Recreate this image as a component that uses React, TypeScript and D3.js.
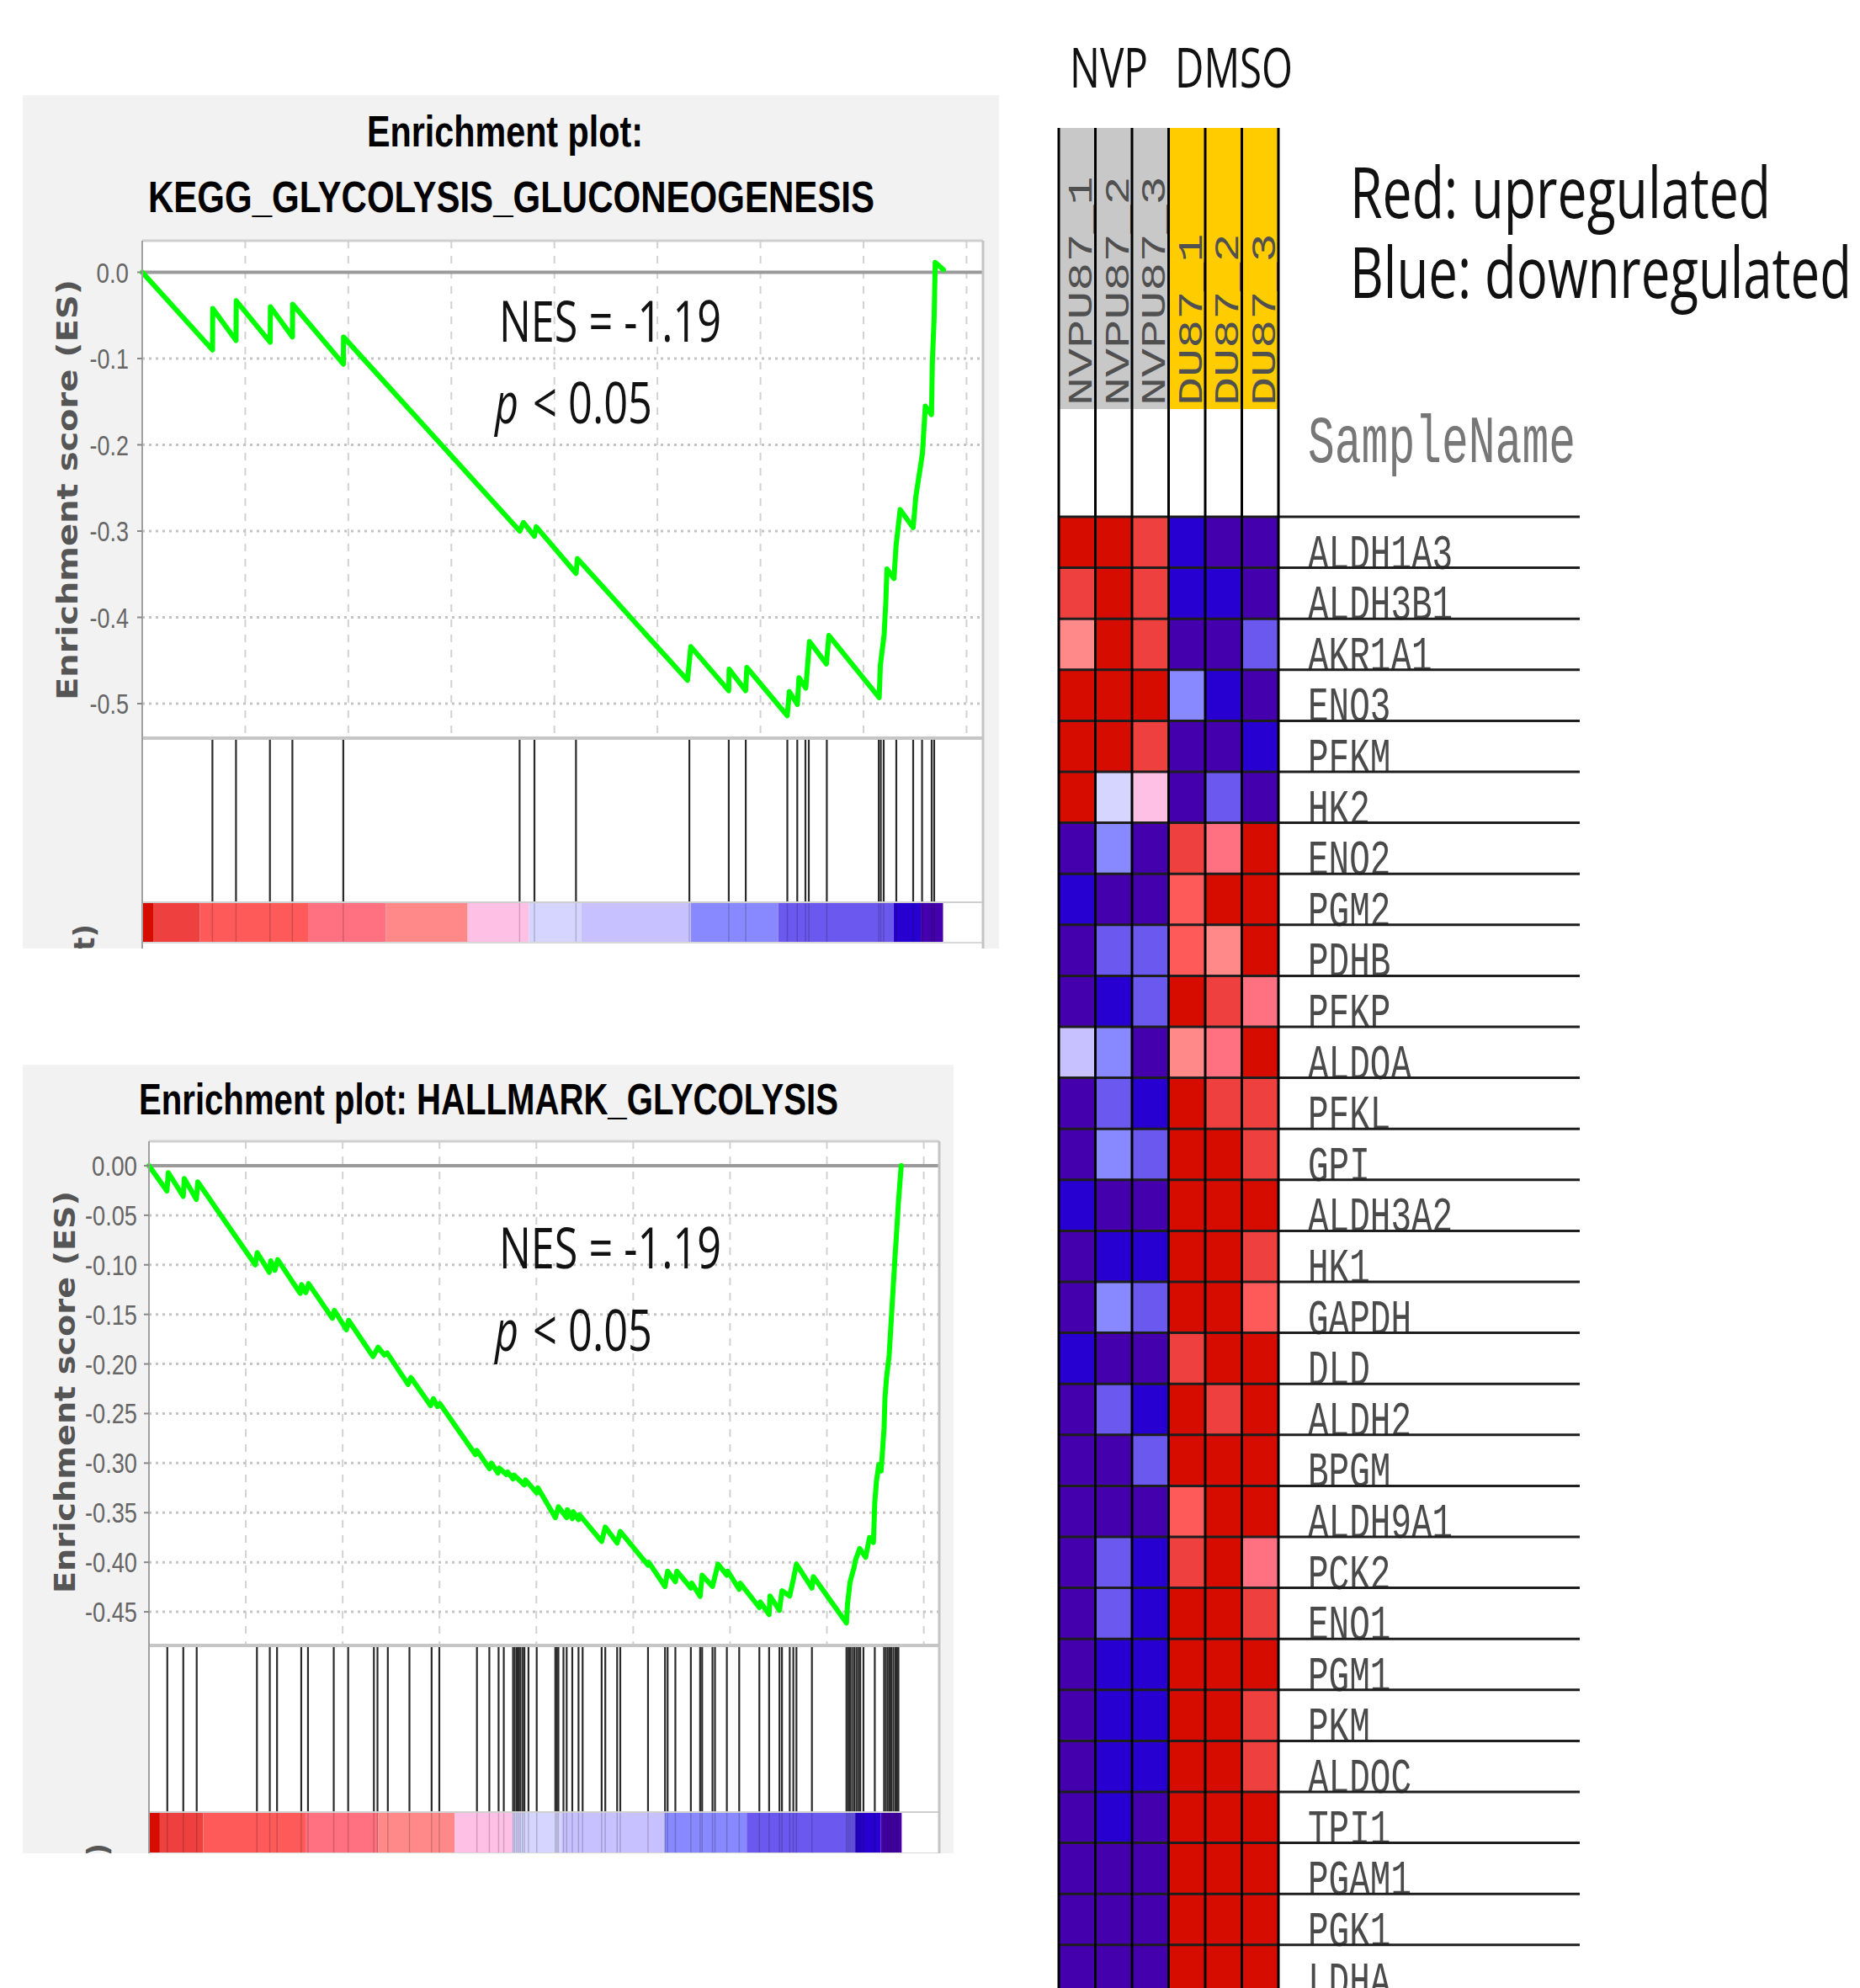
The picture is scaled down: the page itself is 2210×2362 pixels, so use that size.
import React, { useEffect, useRef } from 'react';
import * as d3 from 'd3';

const W = 2210;
const H = 2362;

// ranked list (shared by both GSEA plots)
const rankDomain = [0, 20400];
const rankGrid = [2500, 5000, 7500, 10000, 12500, 15000, 17500, 20000];
const rankBarEdges = [0, 280, 1400, 4040, 5915, 7895, 9386, 10650, 13315, 15430, 18230, 18890, 19430];
const rankBarColors = ['#D60C00', '#EF4040', '#FF5A5A', '#FF7080', '#FF8989', '#FFC0E5', '#D5D5FF', '#C7C1FF', '#8888FF', '#6B58EF', '#2700D1', '#4500AD'];

// KEGG_GLYCOLYSIS_GLUCONEOGENESIS
const keggTicks = [0, -0.1, -0.2, -0.3, -0.4, -0.5];
const keggHits = [1703, 2275, 3098, 3643, 4878, 9156, 9516, 10524, 13275, 14231, 14643, 15652, 15893, 16091, 16173, 16610, 17870, 17920, 17990, 18296, 18705, 18921, 19154, 19215];
const keggCurve = [
  [0, 0], [1705, -0.09], [1710, -0.042], [2275, -0.079], [2280, -0.033],
  [3105, -0.081], [3110, -0.04], [3645, -0.075], [3650, -0.037],
  [4880, -0.1065], [4885, -0.075], [9160, -0.3], [9250, -0.29],
  [9515, -0.306], [9560, -0.295], [10525, -0.349], [10560, -0.332],
  [13230, -0.473], [13310, -0.434], [14230, -0.485], [14240, -0.46],
  [14640, -0.485], [14670, -0.458], [15650, -0.514], [15700, -0.486],
  [15895, -0.501], [15935, -0.47], [16100, -0.482], [16190, -0.428],
  [16600, -0.454], [16660, -0.421], [17880, -0.493], [17910, -0.455],
  [18000, -0.42], [18040, -0.384], [18070, -0.344], [18240, -0.355],
  [18290, -0.317], [18390, -0.275], [18705, -0.296], [18770, -0.26],
  [18930, -0.21], [19000, -0.155], [19150, -0.165], [19170, -0.105],
  [19215, -0.051], [19240, 0.0115], [19440, 0.003],
];

// HALLMARK_GLYCOLYSIS
const hallmarkTicks = [0, -0.05, -0.1, -0.15, -0.2, -0.25, -0.3, -0.35, -0.4, -0.45];
const hallmarkHits = [473, 886, 1232, 2787, 3119, 3306, 3931, 4105, 4770, 5142, 5806, 5899, 6166, 6724, 7296, 7495, 8466, 8786, 9025, 9159, 9398, 9440, 9492, 9540, 9585, 9640, 9692, 9796, 10009, 10489, 10530, 10569, 10700, 10782, 10927, 11088, 11194, 11685, 11779, 12085, 12166, 12882, 13321, 13388, 13588, 13988, 14227, 14279, 14546, 14611, 14917, 15236, 15756, 16008, 16275, 16340, 16540, 16633, 16713, 17113, 18004, 18050, 18097, 18150, 18203, 18260, 18308, 18360, 18443, 18736, 18975, 19020, 19068, 19115, 19161, 19215, 19268, 19310, 19346];
const hallmarkCurve = [
  [0, 0], [463, -0.0255], [500, -0.007], [884, -0.031], [912, -0.013],
  [1223, -0.034], [1260, -0.0164], [2744, -0.1], [2795, -0.0877],
  [3106, -0.1075], [3143, -0.096], [3251, -0.1055], [3323, -0.0948],
  [3903, -0.1288], [3938, -0.12], [4047, -0.128], [4120, -0.119],
  [4735, -0.154], [4785, -0.146], [5097, -0.1655], [5154, -0.156],
  [5784, -0.1925], [5914, -0.183], [6075, -0.191], [6147, -0.1888],
  [6690, -0.2207], [6762, -0.2137], [7270, -0.242], [7341, -0.235],
  [7450, -0.243], [7509, -0.24], [8427, -0.2914], [8464, -0.2872],
  [8790, -0.3056], [8840, -0.3], [9007, -0.31], [9042, -0.305],
  [9225, -0.3115], [9259, -0.309], [9398, -0.316], [9420, -0.312],
  [9692, -0.322], [9720, -0.317], [10009, -0.33], [10040, -0.325],
  [10491, -0.355], [10569, -0.344], [10782, -0.355], [10800, -0.347],
  [10927, -0.356], [10950, -0.349], [11088, -0.357], [11110, -0.352],
  [11685, -0.379], [11779, -0.3645], [12085, -0.3806], [12166, -0.369],
  [12882, -0.403], [12900, -0.4], [13321, -0.4245], [13388, -0.409],
  [13588, -0.4196], [13625, -0.409], [13988, -0.426], [14010, -0.421],
  [14227, -0.4344], [14279, -0.4131], [14546, -0.4244], [14690, -0.4018],
  [14917, -0.4131], [14940, -0.409], [15236, -0.4273], [15260, -0.421],
  [15756, -0.4457], [15780, -0.44], [16008, -0.4527], [16030, -0.434],
  [16275, -0.4485], [16340, -0.4287], [16540, -0.434], [16633, -0.4174],
  [16713, -0.4018], [17113, -0.426], [17150, -0.4145], [18004, -0.4612],
  [18030, -0.443], [18097, -0.42], [18203, -0.405], [18238, -0.3976],
  [18347, -0.3862], [18500, -0.395], [18600, -0.375], [18700, -0.38],
  [18736, -0.3396], [18780, -0.318], [18840, -0.3014], [18900, -0.308],
  [18975, -0.2646], [19000, -0.2334], [19040, -0.2137], [19107, -0.191],
  [19261, -0.09], [19300, -0.067], [19346, -0.037], [19418, 0],
];

// heatmap
const samples = ['NVPU87_1', 'NVPU87_2', 'NVPU87_3', 'DU87_1', 'DU87_2', 'DU87_3'];
const sampleGroups = ['NVP', 'NVP', 'NVP', 'DMSO', 'DMSO', 'DMSO'];
const genes = ['ALDH1A3', 'ALDH3B1', 'AKR1A1', 'ENO3', 'PFKM', 'HK2', 'ENO2', 'PGM2', 'PDHB', 'PFKP', 'ALDOA', 'PFKL', 'GPI', 'ALDH3A2', 'HK1', 'GAPDH', 'DLD', 'ALDH2', 'BPGM', 'ALDH9A1', 'PCK2', 'ENO1', 'PGM1', 'PKM', 'ALDOC', 'TPI1', 'PGAM1', 'PGK1', 'LDHA'];
// 0 = strongest blue ... 11 = strongest red
const heatLevels = [
  [11, 11, 10, 1, 0, 0], [10, 11, 10, 1, 1, 0], [7, 11, 10, 0, 0, 2], [11, 11, 11, 3, 1, 0],
  [11, 11, 10, 0, 0, 1], [11, 5, 6, 0, 2, 0], [0, 3, 0, 10, 8, 11], [1, 0, 0, 9, 11, 11],
  [0, 2, 2, 9, 7, 11], [0, 1, 2, 11, 10, 8], [4, 3, 0, 7, 8, 11], [0, 2, 1, 11, 10, 10],
  [0, 3, 2, 11, 11, 10], [1, 0, 0, 11, 11, 11], [0, 1, 1, 11, 11, 10], [0, 3, 2, 11, 11, 9],
  [1, 0, 0, 10, 11, 11], [0, 2, 1, 11, 10, 11], [0, 0, 2, 11, 11, 11], [0, 0, 0, 9, 11, 11],
  [0, 2, 1, 10, 11, 8], [0, 2, 1, 11, 11, 10], [0, 1, 1, 11, 11, 11], [0, 1, 1, 11, 11, 10],
  [0, 1, 1, 11, 11, 10], [0, 1, 0, 11, 11, 11], [0, 0, 0, 11, 11, 11], [0, 0, 0, 11, 11, 11],
  [0, 0, 0, 11, 11, 11],
];
const heatPalette = ['#4500AD', '#2700D1', '#6B58EF', '#8888FF', '#C7C1FF', '#D5D5FF', '#FFC0E5', '#FF8989', '#FF7080', '#FF5A5A', '#EF4040', '#D60C00'];

const NARROW = '"Liberation Sans Narrow", "Liberation Sans", Arial, sans-serif';
const MONO = '"Liberation Mono", "Courier New", monospace';
const SANS = '"Open Sans", "Noto Sans", sans-serif';

// width of a tick label, so the condensed look does not depend on which font is found
const tickWidth = (s) => s.split('').reduce((w, c) => w + (c === '.' ? 7.5 : c === '-' ? 8 : 15.5), 0);

const panels = [
  {
    id: 'kegg', bg: [27, 113, 1187, 1127],
    left: 169, right: 1168, top: 286, esBottom: 877, hitsBottom: 1072, barBottom: 1119,
    yDomain: [0.0366, -0.54], ticks: keggTicks, fmt: (v) => v.toFixed(1), tickRight: 153,
    title: [
      { text: 'Enrichment plot:', x: 436, y: 174, len: 328 },
      { text: 'KEGG_GLYCOLYSIS_GLUCONEOGENESIS', x: 176, y: 252, len: 863 },
    ],
    yLabel: { x: 92, y: 582, len: 500 }, metricX: 112, metricEnd: 1098,
    nesY: 406, pY: 503, curve: keggCurve, hits: keggHits,
  },
  {
    id: 'hallmark', bg: [27, 1265, 1133, 2202],
    left: 177, right: 1116, top: 1356, esBottom: 1955, hitsBottom: 2153, barBottom: 2201,
    yDomain: [0.0246, -0.4839], ticks: hallmarkTicks, fmt: (v) => v.toFixed(2), tickRight: 163,
    title: [{ text: 'Enrichment plot: HALLMARK_GLYCOLYSIS', x: 165, y: 1324, len: 831 }],
    yLabel: { x: 89, y: 1654, len: 478 }, metricX: 128, metricEnd: 2190,
    nesY: 1507, pY: 1605, curve: hallmarkCurve, hits: hallmarkHits,
  },
];

function drawPanel(svg, p) {
  const [bx0, by0, bx1, by1] = p.bg;
  svg.append('defs').append('clipPath').attr('id', 'clip-' + p.id)
    .append('rect').attr('x', bx0).attr('y', by0).attr('width', bx1 - bx0).attr('height', by1 - by0);
  const g = svg.append('g').attr('clip-path', `url(#clip-${p.id})`);

  g.append('rect').attr('x', bx0).attr('y', by0).attr('width', bx1 - bx0).attr('height', by1 - by0).attr('fill', '#f2f2f2');

  const x = d3.scaleLinear().domain(rankDomain).range([p.left, p.right]);
  const y = d3.scaleLinear().domain(p.yDomain).range([p.top, p.esBottom]);

  g.append('rect').attr('x', p.left).attr('y', p.top).attr('width', p.right - p.left)
    .attr('height', by1 - p.top).attr('fill', '#fff');

  // grid
  g.selectAll('line.vgrid').data(rankGrid).enter().append('line')
    .attr('x1', (d) => x(d)).attr('x2', (d) => x(d)).attr('y1', p.top).attr('y2', p.esBottom)
    .attr('stroke', '#d2d2d2').attr('stroke-width', 2).attr('stroke-dasharray', '9,9');
  g.selectAll('line.hgrid').data(p.ticks.filter((t) => t !== 0)).enter().append('line')
    .attr('x1', p.left).attr('x2', p.right).attr('y1', (d) => y(d)).attr('y2', (d) => y(d))
    .attr('stroke', '#c4c4c4').attr('stroke-width', 3).attr('stroke-dasharray', '3,5');
  g.append('line').attr('x1', p.left).attr('x2', p.right).attr('y1', y(0)).attr('y2', y(0))
    .attr('stroke', '#9a9a9a').attr('stroke-width', 4);

  // running enrichment score
  const line = d3.line().x((d) => x(d[0])).y((d) => y(d[1]));
  g.append('path').datum(p.curve).attr('d', line).attr('fill', 'none')
    .attr('stroke', '#00ff00').attr('stroke-width', 6).attr('stroke-linejoin', 'round').attr('stroke-linecap', 'round');

  // ranked list colour bar
  g.selectAll('rect.bar').data(rankBarColors).enter().append('rect')
    .attr('x', (d, i) => x(rankBarEdges[i])).attr('width', (d, i) => x(rankBarEdges[i + 1]) - x(rankBarEdges[i]))
    .attr('y', p.hitsBottom).attr('height', p.barBottom - p.hitsBottom).attr('fill', (d) => d);

  // hits
  g.selectAll('line.hit').data(p.hits).enter().append('line')
    .attr('x1', (d) => x(d)).attr('x2', (d) => x(d)).attr('y1', p.esBottom + 2).attr('y2', p.hitsBottom)
    .attr('stroke', '#2a2a2a').attr('stroke-width', 2.2);
  g.selectAll('line.hitbar').data(p.hits).enter().append('line')
    .attr('x1', (d) => x(d)).attr('x2', (d) => x(d)).attr('y1', p.hitsBottom).attr('y2', p.barBottom)
    .attr('stroke', 'rgba(0,0,0,0.18)').attr('stroke-width', 1.5);

  // frame
  g.append('line').attr('x1', p.left).attr('x2', p.right).attr('y1', p.top).attr('y2', p.top).attr('stroke', '#cfcfcf').attr('stroke-width', 3);
  g.append('line').attr('x1', p.left).attr('x2', p.right).attr('y1', p.esBottom).attr('y2', p.esBottom).attr('stroke', '#c6c6c6').attr('stroke-width', 4);
  g.append('line').attr('x1', p.left).attr('x2', p.right).attr('y1', p.hitsBottom).attr('y2', p.hitsBottom).attr('stroke', '#cfcfcf').attr('stroke-width', 2);
  g.append('line').attr('x1', p.left).attr('x2', p.right).attr('y1', p.barBottom + 1).attr('y2', p.barBottom + 1).attr('stroke', '#d8d8d8').attr('stroke-width', 2);
  g.append('line').attr('x1', p.right).attr('x2', p.right).attr('y1', p.top).attr('y2', by1).attr('stroke', '#c4c4c4').attr('stroke-width', 3);
  g.append('line').attr('x1', p.left).attr('x2', p.left).attr('y1', p.top).attr('y2', by1).attr('stroke', '#a0a0a0').attr('stroke-width', 2);

  // y axis
  g.selectAll('line.tick').data(p.ticks).enter().append('line')
    .attr('x1', p.left - 6).attr('x2', p.left).attr('y1', (d) => y(d)).attr('y2', (d) => y(d))
    .attr('stroke', '#888').attr('stroke-width', 2);
  g.selectAll('text.tick').data(p.ticks).enter().append('text')
    .attr('x', p.tickRight).attr('y', (d) => y(d) + 12).attr('text-anchor', 'end')
    .attr('font-family', NARROW).attr('font-size', 33).attr('fill', '#666')
    .attr('textLength', (d) => tickWidth(p.fmt(d))).attr('lengthAdjust', 'spacingAndGlyphs').text(p.fmt);

  g.append('text').attr('transform', `translate(${p.yLabel.x},${p.yLabel.y}) rotate(-90)`)
    .attr('text-anchor', 'middle').attr('font-family', '"DejaVu Sans", sans-serif').attr('font-weight', 'bold')
    .attr('font-size', 34).attr('fill', '#555').attr('textLength', p.yLabel.len).attr('lengthAdjust', 'spacingAndGlyphs')
    .text('Enrichment score (ES)');
  g.append('text').attr('transform', `translate(${p.metricX},${p.metricEnd}) rotate(-90)`)
    .attr('text-anchor', 'end').attr('font-family', '"DejaVu Sans", sans-serif').attr('font-weight', 'bold')
    .attr('font-size', 34).attr('fill', '#555').text('Ranked list metric (tTest)');

  // title
  g.selectAll('text.title').data(p.title).enter().append('text')
    .attr('x', (d) => d.x).attr('y', (d) => d.y).attr('font-family', NARROW).attr('font-weight', 'bold')
    .attr('font-size', 52).attr('fill', '#000').attr('textLength', (d) => d.len).attr('lengthAdjust', 'spacingAndGlyphs')
    .text((d) => d.text);

  // statistics
  g.append('text').attr('x', 593).attr('y', p.nesY).attr('font-family', SANS).attr('font-size', 68)
    .attr('fill', '#111').attr('textLength', 264).attr('lengthAdjust', 'spacingAndGlyphs').text('NES = -1.19');
  g.append('text').attr('x', 588).attr('y', p.pY).attr('font-family', SANS).attr('font-style', 'italic')
    .attr('font-size', 68).attr('fill', '#111').attr('textLength', 28).attr('lengthAdjust', 'spacingAndGlyphs').text('p');
  g.append('text').attr('x', 633).attr('y', p.pY).attr('font-family', SANS).attr('font-size', 68)
    .attr('fill', '#111').attr('textLength', 142).attr('lengthAdjust', 'spacingAndGlyphs').text('< 0.05');
}

function drawHeatmap(svg) {
  const g = svg.append('g');
  const col = d3.scaleBand().domain(samples).range([1258, 1519]);
  const row = d3.scaleBand().domain(genes).range([614, 614 + genes.length * 60.6]);
  const colour = d3.scaleOrdinal().domain(d3.range(heatPalette.length)).range(heatPalette);
  const rowEnd = 1877;

  g.append('text').attr('x', 1271).attr('y', 104).attr('font-family', SANS).attr('font-size', 66)
    .attr('textLength', 93).attr('lengthAdjust', 'spacingAndGlyphs').attr('fill', '#111').text('NVP');
  g.append('text').attr('x', 1396).attr('y', 104).attr('font-family', SANS).attr('font-size', 66)
    .attr('textLength', 140).attr('lengthAdjust', 'spacingAndGlyphs').attr('fill', '#111').text('DMSO');
  g.append('text').attr('x', 1604).attr('y', 259).attr('font-family', SANS).attr('font-size', 85)
    .attr('textLength', 500).attr('lengthAdjust', 'spacingAndGlyphs').attr('fill', '#111').text('Red: upregulated');
  g.append('text').attr('x', 1604).attr('y', 354).attr('font-family', SANS).attr('font-size', 85)
    .attr('textLength', 596).attr('lengthAdjust', 'spacingAndGlyphs').attr('fill', '#111').text('Blue: downregulated');

  // phenotype header
  g.selectAll('rect.hdr').data(samples).enter().append('rect')
    .attr('x', (d) => col(d)).attr('y', 152).attr('width', col.bandwidth()).attr('height', 486 - 152)
    .attr('fill', (d, i) => (sampleGroups[i] === 'NVP' ? '#c8c8c8' : '#ffcc00'));
  g.selectAll('text.sample').data(samples).enter().append('text')
    .attr('transform', (d) => `translate(${col(d) + 39},482) scale(1,1.42) rotate(-90)`)
    .attr('font-family', MONO).attr('font-size', 40).attr('fill', '#505050').text((d) => d);

  // cells
  const cells = genes.flatMap((gene, r) => samples.map((s, c) => ({ gene, s, v: heatLevels[r][c] })));
  g.selectAll('rect.cell').data(cells).enter().append('rect')
    .attr('x', (d) => col(d.s)).attr('y', (d) => row(d.gene)).attr('width', col.bandwidth()).attr('height', row.bandwidth())
    .attr('fill', (d) => colour(d.v));

  // labels
  g.append('text').attr('transform', 'translate(1554,549) scale(1,1.5)').attr('font-family', MONO)
    .attr('font-size', 53).attr('fill', '#777').text('SampleName');
  g.selectAll('text.gene').data(genes).enter().append('text')
    .attr('transform', (d) => `translate(1554,${row(d) + row.bandwidth() + 1}) scale(1,1.45)`)
    .attr('font-family', MONO).attr('font-size', 41).attr('fill', '#4a4a4a').text((d) => d);

  // grid lines
  g.selectAll('line.hline').data(genes).enter().append('line')
    .attr('x1', 1258).attr('x2', rowEnd).attr('y1', (d) => row(d)).attr('y2', (d) => row(d))
    .attr('stroke', '#1e1e1e').attr('stroke-width', 3);
  g.selectAll('line.vline').data([...samples.map((s) => col(s)), col.range()[1]]).enter().append('line')
    .attr('x1', (d) => d).attr('x2', (d) => d).attr('y1', 152).attr('y2', H)
    .attr('stroke', '#000').attr('stroke-width', 3);
}

export default function App() {
  const ref = useRef(null);
  useEffect(() => {
    const svg = d3.select(ref.current);
    svg.selectAll('*').remove();
    panels.forEach((p) => drawPanel(svg, p));
    drawHeatmap(svg);
  }, []);
  return (
    <div style={{ position: 'absolute', left: 0, top: 0 }}>
      <svg ref={ref} width={W} height={H} style={{ display: 'block', background: '#fff' }} />
    </div>
  );
}
